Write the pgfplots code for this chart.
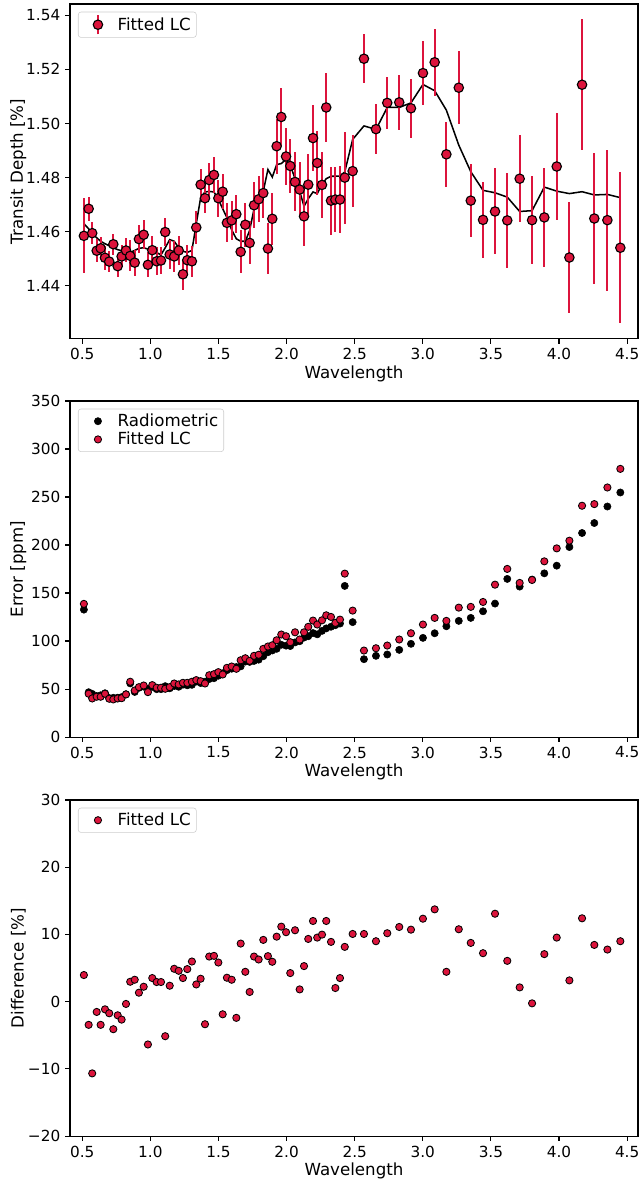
\documentclass[border=0pt]{standalone}
\usepackage{fontspec}
\setmainfont{DejaVu Sans}
\usepackage{pgfplots}
\pgfplotsset{compat=1.18}
\usepackage{pgfplotstable}
\definecolor{crimson}{HTML}{DC143C}
\definecolor{legedge}{HTML}{CCCCCC}

\pgfplotstableread{
x depth model err red black diff
0.512 1.4585 1.4630 0.01387 138.7 132.7 3.96
0.547 1.4685 1.4611 0.00451 45.1 46.7 -3.45
0.573 1.4595 1.4593 0.00402 40.2 45.0 -10.67
0.606 1.4530 1.4578 0.00420 42.0 42.7 -1.53
0.635 1.4539 1.4565 0.00420 42.0 43.5 -3.45
0.667 1.4504 1.4556 0.00451 45.1 45.6 -1.14
0.698 1.4490 1.4548 0.00399 39.9 40.6 -1.73
0.728 1.4554 1.4541 0.00392 39.2 40.9 -4.10
0.760 1.4473 1.4534 0.00402 40.2 41.0 -2.03
0.789 1.4509 1.4530 0.00405 40.5 41.6 -2.67
0.821 1.4531 1.4526 0.00444 44.4 44.6 -0.34
0.852 1.4511 1.4524 0.00576 57.6 55.9 2.96
0.885 1.4486 1.4531 0.00485 48.5 47.0 3.26
0.916 1.4573 1.4539 0.00520 52.0 51.3 1.33
0.951 1.4589 1.4541 0.00537 53.7 52.5 2.22
0.982 1.4478 1.4536 0.00468 46.8 50.0 -6.37
1.014 1.4532 1.4531 0.00541 54.1 52.3 3.51
1.046 1.4491 1.4523 0.00514 51.4 49.9 2.92
1.078 1.4494 1.4515 0.00514 51.4 49.9 2.92
1.109 1.4599 1.4541 0.00503 50.3 53.0 -5.14
1.142 1.4516 1.4571 0.00520 52.0 50.8 2.37
1.175 1.4509 1.4565 0.00558 55.8 53.2 4.89
1.208 1.4531 1.4541 0.00548 54.8 52.4 4.59
1.239 1.4443 1.4528 0.00565 56.5 54.6 3.51
1.271 1.4495 1.4524 0.00565 56.5 53.9 4.84
1.305 1.4491 1.4531 0.00576 57.6 54.4 5.97
1.337 1.4616 1.4630 0.00593 59.3 57.8 2.56
1.369 1.4774 1.4726 0.00582 58.2 56.3 3.41
1.401 1.4724 1.4747 0.00558 55.8 57.7 -3.36
1.432 1.4791 1.4749 0.00644 64.4 60.4 6.71
1.467 1.4810 1.4747 0.00655 65.5 61.3 6.81
1.499 1.4724 1.4720 0.00676 67.6 63.9 5.82
1.531 1.4748 1.4685 0.00652 65.2 66.4 -1.88
1.562 1.4633 1.4652 0.00721 72.1 69.6 3.56
1.597 1.4642 1.4607 0.00735 73.5 71.2 3.26
1.631 1.4665 1.4574 0.00711 71.1 72.9 -2.41
1.663 1.4526 1.4565 0.00800 80.0 73.6 8.64
1.697 1.4626 1.4565 0.00821 82.1 78.6 4.44
1.729 1.4559 1.4605 0.00794 79.4 78.3 1.44
1.761 1.4698 1.4685 0.00846 84.6 79.3 6.71
1.795 1.4720 1.4728 0.00857 85.7 80.6 6.27
1.829 1.4743 1.4750 0.00919 91.9 84.2 9.19
1.863 1.4538 1.4830 0.00943 94.3 88.3 6.77
1.895 1.4648 1.4802 0.00956 95.6 90.2 5.93
1.927 1.4916 1.4848 0.01008 100.8 91.9 9.67
1.961 1.5024 1.4852 0.01068 106.8 96.1 11.16
1.996 1.4878 1.4867 0.01050 105.0 95.2 10.33
2.027 1.4843 1.4846 0.00988 98.8 94.8 4.25
2.062 1.4784 1.4796 0.01091 109.1 98.6 10.62
2.096 1.4756 1.4750 0.01016 101.6 99.8 1.82
2.128 1.4657 1.4694 0.01091 109.1 103.6 5.29
2.159 1.4774 1.4722 0.01148 114.8 105.0 9.33
2.194 1.4946 1.4747 0.01213 121.3 108.3 12.00
2.225 1.4854 1.4741 0.01172 117.2 107.0 9.53
2.260 1.4773 1.4775 0.01216 121.6 110.6 9.97
2.291 1.5059 1.4796 0.01268 126.8 113.2 12.00
2.326 1.4715 1.4805 0.01251 125.1 114.9 8.89
2.358 1.4719 1.4805 0.01189 118.9 116.5 2.03
2.392 1.4719 1.4806 0.01223 122.3 118.2 3.51
2.427 1.4800 1.4821 0.01702 170.2 157.4 8.15
2.485 1.4824 1.4941 0.01317 131.7 119.7 10.07
2.568 1.5239 1.4991 0.00901 90.1 81.1 10.07
2.656 1.4979 1.4978 0.00925 92.5 84.6 8.99
2.739 1.5076 1.5059 0.00953 95.3 86.0 10.18
2.827 1.5078 1.5059 0.01016 101.6 90.8 11.11
2.913 1.5056 1.5076 0.01081 108.1 97.1 10.71
3.001 1.5186 1.5144 0.01172 117.2 103.3 12.34
3.087 1.5226 1.5121 0.01241 124.1 108.1 13.73
3.173 1.4886 1.5049 0.01210 121.0 115.4 4.44
3.264 1.5132 1.4920 0.01348 134.8 121.0 10.77
3.352 1.4715 1.4822 0.01356 135.6 124.1 8.74
3.442 1.4644 1.4753 0.01407 140.7 131.0 7.21
3.530 1.4675 1.4744 0.01587 158.7 139.0 13.08
3.620 1.4642 1.4728 0.01751 175.1 164.7 6.07
3.711 1.4796 1.4675 0.01605 160.5 156.7 2.12
3.802 1.4643 1.4678 0.01636 163.6 164.0 -0.25
3.892 1.4653 1.4765 0.01830 183.0 170.5 7.07
3.983 1.4841 1.4750 0.01965 196.5 178.5 9.53
4.076 1.4505 1.4741 0.02045 204.5 197.9 3.16
4.169 1.5143 1.4748 0.02409 240.9 212.5 12.40
4.259 1.4649 1.4736 0.02426 242.6 222.9 8.44
4.355 1.4643 1.4738 0.02599 259.9 240.1 7.75
4.450 1.4541 1.4726 0.02793 279.3 254.7 8.99
}\data

\pgfplotsset{
  panel/.style={
    scale only axis, width=409pt, height=242pt,
    xmin=0.41, xmax=4.58,
    xtick={0.5,1,1.5,2,2.5,3,3.5,4,4.5},
    xticklabels={0.5,1.0,1.5,2.0,2.5,3.0,3.5,4.0,4.5},
    xtick pos=bottom, ytick pos=left,
    tick align=outside, major tick length=3.5pt,
    every tick/.style={black, line width=0.8pt},
    axis line style={line width=0.8pt},
    tick label style={font=\fontsize{11}{13}\selectfont},
    label style={font=\fontsize{12}{14}\selectfont},
    xlabel={Wavelength},
    xlabel style={yshift=3pt},
    every axis y label/.style={at={(axis description cs:-0.091,0.5)}, rotate=90, anchor=center,
      font=\fontsize{12}{14}\selectfont},
    legend cell align=left,
    legend style={draw=legedge, rounded corners=2pt, at={(0.014,0.977)}, anchor=north west,
      font=\fontsize{12}{14}\selectfont, inner xsep=2pt, inner ysep=1.5pt, row sep=-1.5pt},
  },
  redpt/.style={only marks, mark=*, mark size=2.6pt, mark options={fill=crimson, draw=black, line width=0.6pt}},
}

\begin{document}
\begin{tikzpicture}
\useasboundingbox (0,0) rectangle (460.1pt,-848.9pt);

% ---------- top panel ----------
\begin{axis}[panel, at={(50.4pt,-2.9pt)}, anchor=north west, height=241pt,
  ymin=1.4205, ymax=1.5441,
  ytick={1.44,1.46,1.48,1.50,1.52,1.54},
  yticklabels={1.44,1.46,1.48,1.50,1.52,1.54},
  ylabel={Transit Depth [\%]},
  legend image code/.code={
    \draw[crimson, line width=1.3pt] (12pt,-7pt) -- (12pt,7pt);
    \draw[black, fill=crimson, line width=0.8pt] (12pt,0pt) circle (3.4pt);
    \path (0pt,0pt) (24pt,0pt);
  },
]
\addplot[black, line width=1.1pt, forget plot] table[x=x, y=model] {\data};
\addplot[crimson, only marks, mark=none, forget plot,
  error bars/.cd, y dir=both, y explicit,
  error bar style={draw=crimson, line width=1.3pt}, error mark=none]
  table[x=x, y=depth, y error=err] {\data};
\addplot[only marks, mark=*, mark size=3.4pt,
  mark options={fill=crimson, draw=black, line width=0.8pt}]
  table[x=x, y=depth] {\data};
\addlegendentry{Fitted LC}
\end{axis}

% ---------- middle panel ----------
\begin{axis}[panel, at={(50.4pt,-288.7pt)}, anchor=north west,
  ymin=0, ymax=350,
  ytick={0,50,100,150,200,250,300,350},
  yticklabels={0,50,100,150,200,250,300,350},
  ylabel={Error [ppm]},
  legend image code/.code={
    \draw[mark size=2.6pt, #1] plot coordinates {(12pt,0pt)};
    \path (0pt,0pt) (24pt,0pt);
  },
]
\addplot[only marks, mark=*, mark size=2.6pt, black] table[x=x, y=black] {\data};
\addlegendentry{Radiometric}
\addplot[redpt] table[x=x, y=red] {\data};
\addlegendentry{Fitted LC}
\end{axis}

% ---------- bottom panel ----------
\begin{axis}[panel, at={(50.4pt,-576pt)}, anchor=north west,
  ymin=-20, ymax=30,
  ytick={-20,-10,0,10,20,30},
  yticklabels={−20,−10,0,10,20,30},
  ylabel={Difference [\%]},
  legend image code/.code={
    \draw[mark size=2.6pt, #1] plot coordinates {(12pt,0pt)};
    \path (0pt,0pt) (24pt,0pt);
  },
]
\addplot[redpt] table[x=x, y=diff] {\data};
\addlegendentry{Fitted LC}
\end{axis}
\end{tikzpicture}
\end{document}
